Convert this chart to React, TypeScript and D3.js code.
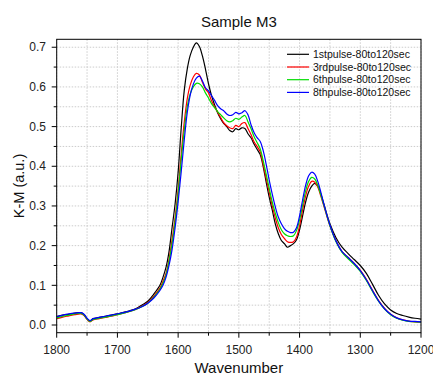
import React from "react";
import * as d3 from "d3";

const wavenumbers = [1800,1790,1780,1770,1760,1755,1750,1745,1740,1730,1720,1710,1700,1690,1680,1670,1660,1650,1640,1630,1625,1620,1615,1610,1605,1600,1595,1590,1585,1580,1575,1570,1565,1560,1555,1550,1545,1540,1535,1530,1525,1520,1515,1510,1505,1500,1495,1490,1485,1480,1475,1470,1465,1460,1455,1450,1445,1440,1435,1430,1425,1420,1415,1410,1405,1400,1395,1390,1385,1380,1375,1370,1365,1360,1350,1340,1330,1320,1310,1300,1290,1280,1270,1260,1250,1240,1230,1220,1210,1200];

const pulse1 = [0.021,0.025,0.027,0.030,0.031,0.026,0.016,0.010,0.016,0.019,0.022,0.025,0.028,0.032,0.036,0.041,0.050,0.060,0.078,0.100,0.120,0.145,0.185,0.245,0.305,0.385,0.495,0.590,0.645,0.680,0.700,0.711,0.702,0.678,0.645,0.608,0.578,0.555,0.535,0.520,0.508,0.500,0.490,0.487,0.495,0.492,0.497,0.495,0.482,0.472,0.456,0.443,0.430,0.400,0.360,0.322,0.290,0.255,0.230,0.213,0.205,0.196,0.200,0.205,0.215,0.240,0.275,0.310,0.335,0.350,0.357,0.350,0.330,0.305,0.255,0.220,0.196,0.180,0.165,0.150,0.130,0.103,0.075,0.053,0.038,0.029,0.024,0.020,0.017,0.015];

const pulse3 = [0.016,0.020,0.023,0.026,0.028,0.024,0.014,0.008,0.013,0.016,0.019,0.022,0.026,0.030,0.034,0.039,0.047,0.057,0.073,0.093,0.110,0.130,0.165,0.215,0.270,0.340,0.430,0.510,0.570,0.605,0.625,0.634,0.630,0.612,0.595,0.585,0.565,0.550,0.537,0.523,0.510,0.502,0.497,0.495,0.503,0.500,0.508,0.510,0.495,0.480,0.462,0.450,0.437,0.405,0.370,0.335,0.300,0.270,0.245,0.228,0.218,0.210,0.208,0.210,0.222,0.250,0.290,0.325,0.350,0.362,0.360,0.348,0.325,0.300,0.250,0.212,0.185,0.170,0.155,0.138,0.115,0.088,0.062,0.042,0.027,0.018,0.013,0.010,0.008,0.007];

const pulse6 = [0.018,0.022,0.025,0.028,0.029,0.025,0.015,0.009,0.014,0.017,0.020,0.023,0.026,0.030,0.034,0.039,0.046,0.055,0.070,0.090,0.105,0.125,0.160,0.205,0.260,0.330,0.415,0.490,0.550,0.583,0.600,0.609,0.608,0.600,0.585,0.572,0.558,0.548,0.538,0.530,0.522,0.515,0.512,0.515,0.521,0.518,0.524,0.528,0.512,0.495,0.475,0.460,0.445,0.415,0.380,0.345,0.310,0.282,0.258,0.240,0.230,0.225,0.223,0.225,0.238,0.265,0.302,0.338,0.362,0.372,0.368,0.352,0.328,0.302,0.250,0.210,0.183,0.167,0.152,0.135,0.112,0.085,0.060,0.040,0.026,0.017,0.012,0.009,0.008,0.007];

const pulse8 = [0.021,0.025,0.028,0.030,0.031,0.027,0.017,0.011,0.016,0.019,0.022,0.025,0.028,0.031,0.035,0.040,0.046,0.055,0.068,0.087,0.100,0.120,0.150,0.190,0.245,0.310,0.385,0.465,0.535,0.580,0.607,0.622,0.627,0.615,0.598,0.590,0.578,0.566,0.553,0.545,0.540,0.532,0.528,0.530,0.536,0.532,0.535,0.540,0.530,0.505,0.485,0.472,0.463,0.440,0.405,0.365,0.330,0.298,0.272,0.255,0.243,0.236,0.233,0.234,0.245,0.275,0.315,0.352,0.376,0.385,0.380,0.362,0.335,0.305,0.252,0.212,0.185,0.170,0.155,0.137,0.114,0.087,0.061,0.041,0.027,0.018,0.013,0.010,0.009,0.008];

const seriesNames = ["1stpulse-80to120sec","3rdpulse-80to120sec","6thpulse-80to120sec","8thpulse-80to120sec"];
const seriesColors = ["#000000","#ff0000","#00dd00","#0000ff"];
const xTicks = [1800,1700,1600,1500,1400,1300,1200];
const xMinor = [1750,1650,1550,1450,1350,1250];
const yTicks = [0.0,0.1,0.2,0.3,0.4,0.5,0.6,0.7];
const yMinor = [0.05,0.15,0.25,0.35,0.45,0.55,0.65];

const W = 433, H = 376;
const L = 56.7, R = 421, T = 39.3, B = 332.7;

export default function App() {
  const x = d3.scaleLinear().domain([1800, 1200]).range([L, R]);
  const y = d3.scaleLinear().domain([-0.0194, 0.72]).range([B, T]);
  const series = [pulse1, pulse3, pulse6, pulse8];
  const line = d3.line<[number, number]>()
    .x(d => x(d[0]))
    .y(d => y(d[1]))
    .curve(d3.curveCatmullRom.alpha(0.5));
  const font = "Liberation Sans, Arial, sans-serif";
  const gridStyle = { stroke: "#cccccc", strokeWidth: 1, strokeDasharray: "1.5,1.5" };
  const order = [0, 1, 2, 3];
  return (
    <svg width={W} height={H} style={{ position: "absolute", left: 0, top: 0, background: "#fff" }} fontFamily={font}>
      <defs>
        <clipPath id="plotclip"><rect x={L} y={T} width={R - L} height={B - T} /></clipPath>
      </defs>
      {[...xTicks, ...xMinor].map(v => (
        <line key={"gx" + v} x1={x(v)} x2={x(v)} y1={T} y2={B} {...gridStyle} />
      ))}
      {[...yTicks, ...yMinor].map(v => (
        <line key={"gy" + v} x1={L} x2={R} y1={y(v)} y2={y(v)} {...gridStyle} />
      ))}
      <g clipPath="url(#plotclip)">
        {order.map(i => (
          <path key={i}
            d={line(wavenumbers.map((w, k) => [w, series[i][k]] as [number, number])) || ""}
            fill="none" stroke={seriesColors[i]} strokeWidth={1.2} strokeLinejoin="round" />
        ))}
      </g>
      <rect x={L} y={T} width={R - L} height={B - T} fill="none" stroke="#000" strokeWidth={1} />
      {xTicks.map(v => (
        <g key={"xt" + v}>
          <line x1={x(v)} x2={x(v)} y1={B} y2={B + 5} stroke="#000" />
          <text x={x(v)} y={353.5} fontSize={12} textAnchor="middle" fill="#222">{v}</text>
        </g>
      ))}
      {xMinor.map(v => (
        <line key={"xm" + v} x1={x(v)} x2={x(v)} y1={B} y2={B + 3} stroke="#000" />
      ))}
      {yTicks.map(v => (
        <g key={"yt" + v}>
          <line x1={L} x2={L - 5} y1={y(v)} y2={y(v)} stroke="#000" />
          <text x={46} y={y(v)} dy="0.35em" fontSize={12} textAnchor="end" fill="#222">{v.toFixed(1)}</text>
        </g>
      ))}
      {yMinor.map(v => (
        <line key={"ym" + v} x1={L} x2={L - 3} y1={y(v)} y2={y(v)} stroke="#000" />
      ))}
      <text x={(L + R) / 2} y={26.5} fontSize={15} textAnchor="middle" fill="#111">Sample M3</text>
      <text x={(L + R) / 2} y={372.5} fontSize={15} textAnchor="middle" fill="#111">Wavenumber</text>
      <text transform={`translate(18.5,${(T + B) / 2}) rotate(-90)`} dy="0.35em" fontSize={14.5} textAnchor="middle" fill="#111">K-M (a.u.)</text>
      {seriesNames.map((n, i) => {
        const yy = 54.3 + i * 12.7;
        return (
          <g key={n}>
            <line x1={287} x2={309} y1={yy} y2={yy} stroke={seriesColors[i]} strokeWidth={1.2} />
            <text x={313} y={yy} dy="0.35em" fontSize={10.5} fill="#111">{n}</text>
          </g>
        );
      })}
    </svg>
  );
}
